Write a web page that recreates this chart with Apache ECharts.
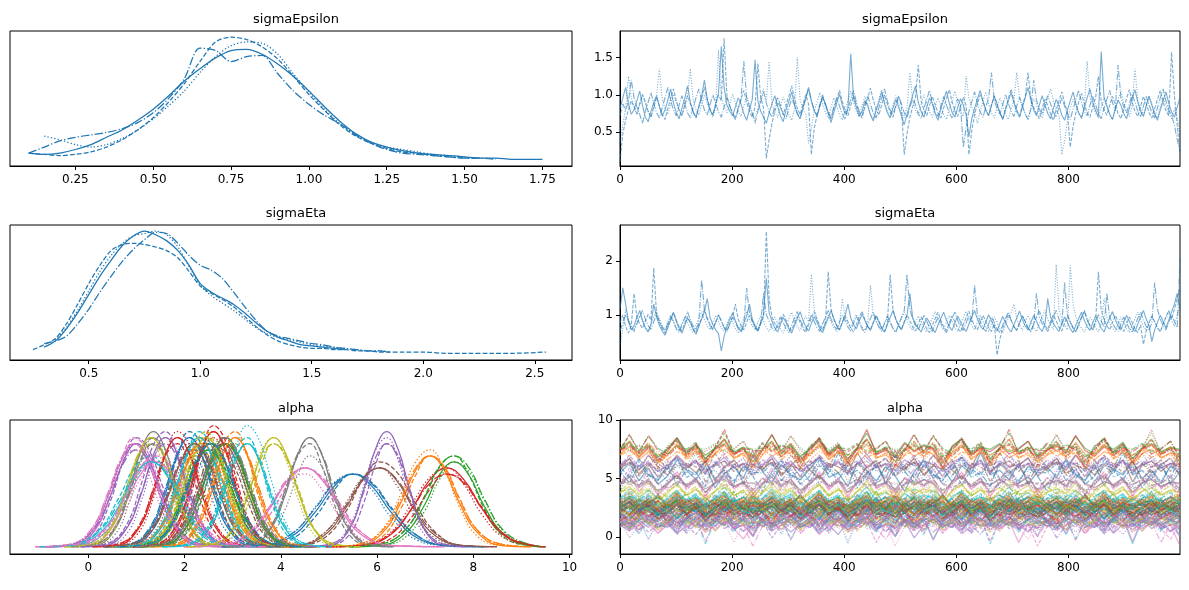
<!DOCTYPE html>
<html>
<head>
<meta charset="utf-8">
<script src="https://cdn.jsdelivr.net/npm/echarts@6/dist/echarts.min.js"></script>
<style>html,body{margin:0;padding:0;background:#fff}#c{width:1189px;height:590px}</style>
</head>
<body>
<div id="c"></div>
<script>
// ---------- titles / tick labels ----------
const TITLES = ['sigmaEpsilon','sigmaEpsilon','sigmaEta','sigmaEta','alpha','alpha'];
const TICKS_SIGE_KDE = [0.25,0.5,0.75,1.0,1.25,1.5,1.75];
const TICKS_SIGH_KDE = [0.5,1.0,1.5,2.0,2.5];
const TICKS_ALPHA_KDE = [0,2,4,6,8,10];
const TICKS_DRAW = [0,200,400,600,800];
const TICKS_SIGE_Y = [0.5,1.0,1.5];
const TICKS_SIGH_Y = [1,2];
const TICKS_ALPHA_Y = [0,5,10];

// ---------- sigmaEpsilon KDE (density, % of max) per chain ----------
const SIGE_X = [0.10,0.15,0.20,0.25,0.30,0.35,0.40,0.45,0.50,0.55,0.60,0.65,0.70,0.75,0.80,0.85,0.90,0.95,1.00,1.05,1.10,1.15,1.20,1.25,1.30,1.35,1.40,1.45,1.50,1.55,1.60,1.65,1.70,1.75];
const SIGE_K0 = [5,4,5,8,12,18,24,32,41,52,64,74,83,89,90,86,78,68,56,43,31,21,14,10,7,5,4,3,2,1,1,0,0,0];
const SIGE_K1 = [5,4,3,4,6,10,16,24,34,47,62,80,96,100,98,92,82,68,53,40,28,19,13,9,6,5,3,2,1,1,null,null,null,null];
const SIGE_K2 = [null,19,16,12,10,12,17,24,33,44,56,71,84,93,96,95,86,70,55,41,29,20,14,10,8,6,4,3,2,null,null,null,null,null];
const SIGE_K3 = [5,10,15,18,20,22,25,30,38,50,66,91,89,80,84,85,70,56,45,36,29,20,13,8,5,4,3,2,1,1,0,null,null,null];

// ---------- sigmaEta KDE ----------
const SIGH_X = [0.25,0.30,0.35,0.40,0.45,0.50,0.55,0.60,0.65,0.70,0.75,0.80,0.85,0.90,0.95,1.00,1.05,1.10,1.15,1.20,1.25,1.30,1.35,1.40,1.45,1.50,1.55,1.60,1.65,1.70,1.75,1.80,1.85,1.90,2.0,2.1,2.2,2.3,2.4,2.55];
const SIGH_K0 = [null,5,10,20,33,48,63,76,88,96,100,97,92,84,72,57,50,45,40,33,25,18,13,10,7,6,5,4,3,null,null,null,null,null,null,null,null,null,null,null];
const SIGH_K1 = [3,7,12,24,40,57,72,84,89,90,89,87,84,78,67,55,49,44,38,30,22,15,10,7,5,4,4,3,3,2,2,1,1,1,1,0,0,0,0,1];
const SIGH_K2 = [null,null,11,21,35,51,67,80,90,96,98,100,97,87,71,56,47,41,35,28,21,16,13,11,9,7,6,5,4,3,2,2,1,null,null,null,null,null,null,null];
const SIGH_K3 = [null,8,10,14,24,36,50,63,75,85,93,99,98,90,80,72,68,61,50,38,27,18,14,12,10,8,7,5,4,3,2,2,1,null,null,null,null,null,null,null];

// ---------- sigmaEpsilon trace (hundredths), 4 chains ----------
const SIGE_T0 = [82,96,110,88,74,80,92,105,86,70,64,78,90,99,84,72,80,93,108,89,76,68,82,95,112,90,78,70,85,98,120,94,80,73,88,102,165,110,86,78,72,84,96,88,75,66,80,94,147,92,78,70,62,76,88,99,85,72,64,80,91,104,87,74,68,82,95,110,92,79,71,85,97,88,76,63,77,89,101,86,74,82,155,96,83,71,78,92,86,73,65,79,90,104,88,76,69,82,94,84,72,60,74,87,99,112,90,78,70,84,96,88,75,66,81,93,105,89,77,70,83,95,86,73,44,68,82,94,106,91,79,72,86,98,88,76,67,80,92,103,89,77,70,84,96,110,93,80,72,86,99,87,75,68,82,94,85,73,66,80,92,104,88,76,69,83,96,108,91,79,71,158,97,85,74,67,81,93,86,75,68,82,95,107,90,78,71,85,98,86,74,66,80,92,104,89,77,70,84,96];
const SIGE_T1 = [10,48,66,80,92,84,75,88,101,90,78,70,84,97,86,74,67,82,95,108,92,80,72,86,99,88,76,69,83,96,110,94,81,73,87,100,92,176,98,84,76,69,82,94,106,90,78,70,84,142,96,83,15,40,62,78,90,84,73,86,98,112,95,82,74,87,100,88,20,55,72,85,97,86,75,68,82,94,106,91,79,72,86,99,87,76,69,83,95,109,93,81,73,87,100,88,77,70,84,97,86,20,48,70,84,96,140,92,80,72,86,98,87,76,69,82,95,107,91,79,71,85,97,86,20,52,74,88,100,92,80,73,86,99,87,76,68,82,95,108,92,80,72,86,98,130,95,83,75,68,82,94,86,74,66,80,92,104,89,77,30,58,76,90,102,88,76,70,84,96,125,92,80,73,86,98,87,75,68,82,95,107,90,78,71,85,98,88,76,69,82,94,106,90,79,72,157,100,60,22];
const SIGE_T2 = [35,60,82,125,96,84,73,87,100,90,78,70,84,98,135,94,82,74,88,101,90,79,72,86,99,135,92,80,73,87,100,89,77,70,84,160,96,84,76,88,101,90,78,71,85,98,87,76,68,82,95,108,92,145,88,77,70,84,97,86,74,66,80,150,94,82,74,35,55,78,90,103,88,76,69,83,96,85,73,66,80,92,105,90,78,71,85,98,87,75,68,82,95,107,91,79,72,86,99,88,76,69,83,130,92,80,73,87,100,89,77,70,84,96,85,74,67,81,93,105,90,78,71,125,96,84,76,62,78,92,104,88,76,69,83,96,86,74,67,81,93,130,95,83,75,68,82,95,87,76,69,83,96,108,92,80,73,20,38,65,82,94,86,75,68,82,145,97,85,76,69,83,96,86,74,67,81,93,105,89,78,71,85,135,93,81,73,86,99,88,76,69,83,96,86,75,68,82,70,45];
const SIGE_T3 = [72,88,79,92,120,96,84,74,62,78,90,103,88,76,69,83,96,110,92,80,72,86,99,88,76,69,83,96,108,92,80,73,87,100,89,77,70,84,97,86,74,67,81,94,145,96,84,75,62,78,91,104,89,77,70,84,97,86,75,68,82,95,87,76,69,83,96,108,92,80,73,87,100,88,77,70,84,96,85,74,67,81,94,106,90,78,72,86,99,87,76,69,83,96,108,92,80,73,86,99,88,76,69,83,95,87,75,68,82,94,106,90,78,71,85,98,87,76,69,83,95,86,30,56,78,91,104,89,77,70,84,96,130,93,81,74,87,100,89,78,71,85,97,86,74,67,81,120,93,81,74,87,99,88,77,70,84,96,85,74,67,81,94,106,90,78,72,86,98,87,75,68,82,94,106,90,79,140,96,84,76,88,101,90,78,71,85,98,87,76,69,83,96,108,92,80,73,60,40,25];

// ---------- sigmaEta trace (hundredths), 4 chains ----------
const SIGH_T0 = [110,150,120,88,72,80,95,108,90,76,68,82,120,96,80,70,62,76,90,104,88,75,66,80,94,86,73,64,78,92,106,130,95,82,72,65,33,60,78,92,104,89,77,70,84,98,120,92,80,72,86,100,168,104,88,76,68,82,95,86,74,66,80,93,106,90,78,70,84,97,86,74,67,81,94,108,92,80,72,86,99,120,94,82,74,88,101,90,78,71,85,98,87,75,68,82,95,108,92,80,72,86,99,140,95,83,75,68,82,94,86,74,67,81,93,105,90,78,71,85,98,87,76,69,83,96,108,92,80,73,87,100,89,77,70,84,97,86,75,68,82,94,107,91,79,72,86,99,88,76,69,83,130,96,84,76,69,83,96,86,74,67,81,93,105,90,78,71,85,98,87,75,68,82,94,106,91,79,72,86,99,88,76,69,83,96,108,92,80,50,72,86,99,88,76,90,105,120,140,110];
const SIGH_T1 = [85,100,78,66,80,140,95,83,75,88,101,90,187,100,86,74,66,80,93,105,90,78,70,84,97,86,74,67,81,93,110,94,82,74,87,100,89,77,70,84,96,120,92,80,72,86,99,88,76,69,83,96,255,130,96,84,76,88,101,90,78,71,85,97,86,74,67,81,94,106,91,79,72,86,180,110,92,80,72,86,98,87,75,68,82,95,107,91,79,72,86,99,88,76,69,83,175,110,92,80,73,87,100,89,77,70,84,96,85,74,67,81,93,105,90,78,71,85,98,87,75,68,82,95,107,91,79,72,86,99,88,76,69,83,25,55,75,88,101,90,78,71,85,98,87,76,69,83,96,108,92,80,73,87,100,89,77,70,84,97,86,75,68,82,94,106,91,79,72,86,180,110,92,80,72,86,99,88,76,69,83,96,86,74,67,81,45,70,85,98,87,76,69,83,96,108,92,110,130,145];
const SIGH_T2 = [40,75,110,92,80,72,86,99,88,76,69,83,96,108,92,80,73,87,100,89,77,70,84,97,86,74,67,81,93,106,91,79,72,86,99,88,76,69,83,96,86,74,67,81,94,107,91,79,72,86,99,88,76,69,83,96,85,74,66,80,93,105,90,78,71,85,98,87,175,110,92,80,72,86,99,88,76,69,83,130,96,84,76,88,101,90,78,71,85,155,100,88,76,69,83,96,86,74,67,81,93,105,90,78,71,85,98,87,75,68,82,94,106,91,79,72,86,99,88,76,69,83,95,107,91,79,72,86,99,88,76,69,83,96,86,74,67,81,93,105,120,92,80,72,86,99,88,76,69,83,96,108,92,80,73,193,110,92,80,72,192,120,95,83,75,68,82,95,87,76,69,83,130,96,84,76,69,83,96,86,74,67,81,93,105,90,78,71,85,98,87,75,68,82,94,106,91,79,100,120];
const SIGH_T3 = [70,85,100,88,76,69,83,96,108,92,80,73,87,100,89,77,70,84,97,86,74,67,81,93,106,91,79,72,86,165,110,92,80,72,86,99,88,76,69,83,96,86,74,67,81,150,104,89,77,70,84,140,100,88,76,69,83,96,86,74,67,81,94,106,91,79,72,86,99,88,76,69,83,96,108,92,80,73,87,100,89,77,70,84,97,86,74,67,81,93,105,90,78,71,85,98,87,75,68,82,95,107,175,110,92,80,72,86,99,88,76,69,83,96,86,74,67,81,93,105,90,78,71,85,98,87,155,100,88,76,69,83,96,86,74,67,81,93,105,90,78,71,85,98,87,75,68,82,140,96,84,76,69,83,96,108,92,80,160,100,88,76,69,83,96,108,92,80,73,87,100,89,77,140,96,84,76,69,83,96,86,74,67,81,93,105,90,78,71,85,160,110,92,80,72,86,99,88,76,205];

// ---------- alpha KDE: x grid per parameter, density (% of max) per chain, tail ends ----------
const ALPHA_KDE_X = [
[0.84,1.26,1.60,1.85,2.10,2.35,2.60,2.94,3.36],
[1.00,1.45,1.81,2.08,2.35,2.62,2.89,3.25,3.70],
[1.15,1.60,1.96,2.23,2.50,2.77,3.04,3.40,3.85],
[0.59,1.01,1.35,1.60,1.85,2.10,2.35,2.69,3.11],
[-0.35,0.10,0.46,0.73,1.00,1.27,1.54,1.90,2.35],
[1.45,1.90,2.26,2.53,2.80,3.07,3.34,3.70,4.15],
[-0.40,0.05,0.41,0.68,0.95,1.22,1.49,1.85,2.30],
[0.12,0.53,0.86,1.10,1.35,1.60,1.84,2.17,2.58],
[0.01,0.44,0.78,1.04,1.30,1.56,1.82,2.16,2.59],
[-0.35,0.20,0.64,0.97,1.30,1.63,1.96,2.40,2.95],
[3.55,4.20,4.72,5.11,5.50,5.89,6.28,6.80,7.45],
[1.79,2.21,2.55,2.80,3.05,3.30,3.55,3.89,4.31],
[1.56,1.99,2.33,2.59,2.85,3.11,3.37,3.71,4.14],
[1.40,1.80,2.12,2.36,2.60,2.84,3.08,3.40,3.80],
[0.34,0.76,1.10,1.35,1.60,1.85,2.10,2.44,2.86],
[4.31,4.89,5.35,5.70,6.05,6.40,6.75,7.21,7.79],
[-0.25,0.30,0.74,1.07,1.40,1.73,2.06,2.50,3.05],
[1.50,1.95,2.31,2.58,2.85,3.12,3.39,3.75,4.20],
[1.19,1.61,1.95,2.20,2.45,2.70,2.95,3.29,3.71],
[1.04,1.46,1.80,2.05,2.30,2.55,2.80,3.14,3.56],
[1.20,1.65,2.01,2.28,2.55,2.82,3.09,3.45,3.90],
[5.60,6.10,6.50,6.80,7.10,7.40,7.70,8.10,8.60],
[6.04,6.56,6.98,7.29,7.60,7.91,8.22,8.64,9.16],
[5.65,6.25,6.73,7.09,7.45,7.81,8.17,8.65,9.25],
[5.00,5.40,5.72,5.96,6.20,6.44,6.68,7.00,7.40],
[0.85,1.30,1.66,1.93,2.20,2.47,2.74,3.10,3.55],
[2.70,3.30,3.78,4.14,4.50,4.86,5.22,5.70,6.30],
[3.34,3.76,4.10,4.35,4.60,4.85,5.10,5.44,5.86],
[2.56,2.99,3.33,3.59,3.85,4.11,4.37,4.71,5.14],
[2.04,2.46,2.80,3.05,3.30,3.55,3.80,4.14,4.56]
];
const ALPHA_KDE_LO = [0.34,0.46,0.61,0.09,-0.89,0.91,-1.1,-0.37,-0.51,-1.01,2.77,1.29,1.04,0.92,-0.16,3.61,-0.91,0.96,0.69,0.54,0.66,5.0,5.42,4.93,4.52,0.31,1.98,2.84,2.04,1.54];
const ALPHA_KDE_HI = [3.86,4.24,4.39,3.61,2.89,4.69,2.84,3.07,3.11,3.61,8.23,4.81,4.66,4.28,3.36,8.49,3.71,4.74,4.21,4.06,4.44,9.2,9.5,9.5,7.88,4.09,7.4,6.36,5.66,5.06];
const ALPHA_KDE_Y = [
[[1,13,44,76,90,76,44,13,1],[1,10,40,75,95,84,52,16,2],[2,14,47,75,85,67,36,9,1],[2,15,48,77,90,77,48,15,2]],
[[1,12,42,71,85,71,42,12,1],[2,14,44,70,80,63,34,8,1],[1,9,38,71,90,79,50,15,2],[2,14,45,73,85,73,45,14,2]],
[[1,11,39,67,80,67,39,11,1],[1,9,36,67,85,75,47,14,2],[2,14,47,75,85,67,36,9,1],[2,14,42,69,80,69,42,14,2]],
[[1,13,44,76,90,76,44,13,1],[2,14,47,75,85,67,36,9,1],[1,10,40,75,95,84,52,16,2],[2,15,48,77,90,77,48,15,2]],
[[1,12,42,71,85,71,42,12,1],[1,9,38,71,90,79,50,15,2],[2,14,47,75,85,67,36,9,1],[2,14,42,69,80,69,42,14,2]],
[[1,12,42,71,85,71,42,12,1],[2,14,44,70,80,63,34,8,1],[1,9,36,67,85,75,47,14,2],[2,15,48,77,90,77,48,15,2]],
[[1,12,42,71,85,71,42,12,1],[1,9,38,71,90,79,50,15,2],[2,14,44,70,80,63,34,8,1],[2,14,45,73,85,73,45,14,2]],
[[1,13,47,80,95,80,47,13,1],[2,15,50,79,90,71,38,9,1],[1,9,38,71,90,79,50,15,2],[2,14,45,73,85,73,45,14,2]],
[[1,13,44,76,90,76,44,13,1],[1,9,36,67,85,75,47,14,2],[2,14,47,75,85,67,36,9,1],[2,15,48,77,90,77,48,15,2]],
[[1,10,34,59,70,59,34,10,1],[2,13,41,66,75,59,32,8,1],[1,7,29,55,70,62,39,12,1],[1,12,37,60,70,60,37,12,1]],
[[1,8,29,50,60,50,29,8,1],[1,6,25,47,60,53,33,10,1],[1,10,33,53,60,47,25,6,1],[1,10,32,52,60,52,32,10,1]],
[[1,13,44,76,90,76,44,13,1],[2,16,52,84,95,75,40,10,1],[1,9,36,67,85,75,47,14,2],[2,15,48,77,90,77,48,15,2]],
[[1,13,44,76,90,76,44,13,1],[1,9,36,67,85,75,47,14,2],[2,15,50,79,90,71,38,9,1],[2,14,45,73,85,73,45,14,2]],
[[1,13,47,80,95,80,47,13,1],[1,10,42,79,100,88,55,17,2],[2,15,50,79,90,71,38,9,1],[2,16,50,82,95,82,50,16,2]],
[[1,13,44,76,90,76,44,13,1],[2,16,52,84,95,75,40,10,1],[1,9,38,71,90,79,50,15,2],[2,14,45,73,85,73,45,14,2]],
[[1,9,32,55,65,55,32,9,1],[1,7,29,55,70,62,39,12,1],[1,11,36,57,65,51,27,7,1],[1,11,34,56,65,56,34,11,1]],
[[1,10,34,59,70,59,34,10,1],[1,12,39,62,70,55,29,7,1],[1,7,29,55,70,62,39,12,1],[2,13,40,65,75,65,40,13,2]],
[[1,12,42,71,85,71,42,12,1],[1,9,36,67,85,75,47,14,2],[2,14,44,70,80,63,34,8,1],[2,15,48,77,90,77,48,15,2]],
[[1,13,44,76,90,76,44,13,1],[2,16,52,84,95,75,40,10,1],[1,9,38,71,90,79,50,15,2],[2,15,48,77,90,77,48,15,2]],
[[1,13,44,76,90,76,44,13,1],[1,10,40,75,95,84,52,16,2],[2,14,47,75,85,67,36,9,1],[2,15,48,77,90,77,48,15,2]],
[[1,12,42,71,85,71,42,12,1],[2,14,47,75,85,67,36,9,1],[1,8,34,63,80,70,44,14,2],[2,14,45,73,85,73,45,14,2]],
[[1,11,37,63,75,63,37,11,1],[1,8,32,59,75,66,41,13,2],[2,14,44,70,80,63,34,8,1],[2,13,40,65,75,65,40,13,2]],
[[1,10,34,59,70,59,34,10,1],[2,13,41,66,75,59,32,8,1],[1,7,29,55,70,62,39,12,1],[2,13,40,65,75,65,40,13,2]],
[[1,9,32,55,65,55,32,9,1],[1,6,25,47,60,53,33,10,1],[1,11,36,57,65,51,27,7,1],[1,10,32,52,60,52,32,10,1]],
[[1,13,47,80,95,80,47,13,1],[1,9,36,67,85,75,47,14,2],[2,15,50,79,90,71,38,9,1],[2,14,45,73,85,73,45,14,2]],
[[1,12,42,71,85,71,42,12,1],[2,14,44,70,80,63,34,8,1],[1,9,36,67,85,75,47,14,2],[2,14,45,73,85,73,45,14,2]],
[[1,9,32,55,65,55,32,9,1],[1,7,27,51,65,57,36,11,1],[1,10,33,53,60,47,25,6,1],[1,11,34,56,65,56,34,11,1]],
[[1,13,44,76,90,76,44,13,1],[2,14,47,75,85,67,36,9,1],[1,8,32,59,75,66,41,13,2],[2,15,48,77,90,77,48,15,2]],
[[1,13,44,76,90,76,44,13,1],[1,9,36,67,85,75,47,14,2],[2,15,50,79,90,71,38,9,1],[2,14,45,73,85,73,45,14,2]],
[[1,12,42,71,85,71,42,12,1],[2,15,50,79,90,71,38,9,1],[1,10,42,79,100,88,55,17,2],[2,14,45,73,85,73,45,14,2]]
];

// ---------- alpha trace samples per parameter (tenths) ----------
const ALPHA_TRACE = [
[21,26,17,23,15,20,28,19,24,13,22,27,18,25,30,20,16,23,29,19,21,14,26,22,18,24,31,20,17,25,12,23,20,27,19,22,16,28,21,24,19,25,17,22,29,20,15,23,26,18,21,27,16,24,20,13,22,28,19,23],
[24,19,28,22,31,25,17,23,29,21,15,26,24,32,20,27,18,25,22,30,23,16,28,24,20,26,33,21,19,27,23,14,25,29,22,18,26,24,30,21,27,20,23,31,19,25,28,17,22,26,30,21,24,18,27,23,15,25,20,28],
[25,30,22,27,19,24,32,26,21,28,16,25,29,23,34,20,26,28,18,24,27,31,22,25,17,29,24,33,21,26,23,28,19,25,30,22,27,15,26,24,29,21,27,23,32,25,19,28,24,20,26,31,22,27,18,25,30,23,26,21],
[19,14,23,17,26,18,12,20,24,16,19,28,15,21,17,25,10,19,22,16,20,27,18,13,23,19,15,26,20,17,21,11,24,18,22,16,29,19,14,21,18,23,16,20,25,14,19,22,17,24,12,20,18,26,15,21,19,23,17,20],
[10,5,14,8,17,11,3,9,13,6,12,19,7,10,1,15,9,12,4,11,8,16,10,2,13,9,18,6,11,7,14,-1,10,15,8,12,5,17,9,11,7,13,10,4,15,9,12,6,18,10,8,14,3,11,9,16,7,12,5,10],
[28,33,24,30,21,27,35,29,23,31,19,28,32,25,37,26,30,22,29,34,27,20,31,28,24,36,26,30,23,29,33,18,27,31,25,28,38,24,30,26,32,23,29,35,27,21,30,25,33,28,24,31,19,27,34,26,29,22,30,28],
[9,14,6,11,3,10,17,8,12,4,9,15,7,-2,11,13,5,10,19,8,12,2,10,14,6,9,16,7,11,0,13,8,10,18,5,12,9,4,15,10,7,13,-5,11,8,16,6,10,14,3,12,9,17,7,11,5,13,8,10,-8],
[14,9,17,12,20,13,7,15,18,11,14,22,10,16,5,13,19,12,15,8,14,21,11,16,6,13,17,10,15,23,12,8,14,18,11,16,9,13,20,14,12,17,10,15,19,13,7,16,12,14,21,11,15,9,18,13,10,16,14,12],
[13,18,9,15,6,12,20,14,10,17,5,13,16,11,22,8,14,19,12,7,15,10,18,13,4,16,11,21,12,9,15,13,6,17,10,14,23,11,15,12,16,9,14,19,11,13,7,17,12,15,10,20,13,8,16,12,14,18,10,13],
[13,6,19,10,22,14,3,16,20,9,12,25,7,15,0,18,11,14,23,8,13,19,5,16,10,26,12,4,17,11,21,8,15,-2,13,19,10,16,24,12,9,17,6,14,21,11,15,2,18,13,8,20,12,16,-6,14,10,22,13,11],
[55,63,48,59,45,52,66,57,49,61,42,54,60,50,70,56,46,62,53,49,58,68,51,55,43,64,57,48,60,52,39,56,65,50,59,47,61,54,72,53,57,49,63,45,56,60,51,67,54,48,62,44,58,53,65,50,57,46,61,55],
[30,35,26,32,23,31,38,29,33,25,30,36,27,34,21,31,39,28,32,24,30,37,29,33,22,31,35,26,30,41,28,32,25,34,30,27,36,20,31,33,29,34,26,31,37,28,24,32,30,35,27,33,23,30,36,29,31,26,34,30],
[29,24,33,27,36,28,22,30,34,25,29,38,26,31,20,28,35,27,32,23,29,37,26,30,21,33,28,39,25,30,27,34,24,29,36,26,31,19,28,32,27,33,25,30,35,28,23,31,29,34,26,30,37,24,28,32,27,31,22,29],
[26,31,22,28,20,25,33,27,23,29,18,26,30,24,35,22,27,32,25,20,28,24,31,26,17,29,25,34,23,27,21,26,30,24,36,25,28,22,29,26,24,30,23,27,32,25,19,28,26,31,22,27,33,24,26,29,21,28,25,27],
[16,11,20,14,23,17,9,15,21,13,16,25,12,18,7,15,22,14,19,10,16,24,13,17,8,15,20,12,18,26,14,11,17,21,13,19,6,16,22,15,18,12,16,20,14,9,17,23,15,13,19,11,16,21,14,17,10,18,15,16],
[60,67,54,63,51,59,70,62,55,65,48,60,66,56,74,58,64,52,61,69,57,50,63,60,54,72,59,65,46,62,57,68,53,61,58,66,49,60,75,56,63,55,61,68,52,59,64,57,70,60,53,62,58,66,47,61,65,56,63,60],
[14,7,20,11,23,15,4,17,21,10,13,26,8,16,1,19,12,15,24,9,14,20,6,17,11,27,13,5,18,12,22,9,16,-3,14,20,11,17,25,13,10,18,7,15,22,12,16,3,19,14,9,21,13,17,-4,15,11,23,14,12],
[28,33,24,30,21,29,36,27,32,23,28,35,25,31,19,29,37,26,30,22,28,34,27,32,20,30,39,25,29,23,31,26,35,28,24,33,18,29,31,27,30,25,28,34,23,29,32,26,36,28,22,30,27,33,25,29,31,24,28,30],
[24,29,20,26,18,25,32,23,28,19,24,30,21,27,16,25,33,22,26,19,24,31,23,27,17,25,29,21,26,34,23,20,28,24,15,26,30,22,27,25,23,28,20,25,31,22,18,26,24,29,21,27,32,23,25,20,28,24,26,23],
[23,18,27,21,30,24,16,22,28,19,23,32,20,25,14,22,29,21,26,17,23,31,20,24,15,26,22,33,19,24,21,27,18,23,30,20,25,13,22,26,24,19,28,22,17,25,21,29,23,20,26,15,24,22,27,19,23,31,21,24],
[25,30,21,27,18,26,33,24,29,20,25,32,22,28,16,26,34,23,27,19,25,31,24,28,17,26,35,22,25,20,29,23,30,26,21,28,15,25,27,24,28,22,26,31,20,25,29,23,33,26,21,27,24,30,18,25,28,23,26,24],
[71,77,66,73,63,70,80,68,74,65,71,79,67,72,59,70,82,69,75,64,71,78,66,73,61,72,84,68,70,65,76,69,74,71,58,73,79,67,72,70,75,68,72,77,64,70,74,69,81,71,66,73,70,76,62,71,75,68,72,70],
[76,82,71,78,68,75,85,73,79,70,76,84,72,77,64,75,87,74,80,69,76,83,71,78,66,77,89,73,75,70,81,74,79,76,63,78,84,72,77,75,80,73,76,82,69,75,79,74,86,76,71,78,75,81,67,76,80,73,77,75],
[74,81,68,77,65,73,85,71,79,67,75,83,70,76,61,74,88,72,79,66,75,82,69,77,63,76,92,71,74,68,80,73,78,75,59,77,84,70,76,73,79,71,75,82,67,74,78,72,87,74,69,77,73,80,64,75,79,71,76,74],
[62,67,58,64,56,61,69,60,65,57,62,68,59,63,53,61,70,60,65,56,62,68,59,64,54,63,71,60,62,57,66,61,65,62,52,64,68,59,63,61,65,60,62,67,57,61,64,60,70,62,58,63,61,66,55,62,65,59,63,62],
[22,27,18,24,15,21,29,20,26,17,22,28,19,25,12,23,30,20,24,16,22,29,19,25,13,23,32,19,21,17,26,20,27,22,14,25,28,18,23,21,24,19,22,27,16,21,25,20,30,22,18,24,21,26,14,22,25,19,23,21],
[45,52,39,48,36,44,56,42,50,38,46,54,41,47,32,45,59,43,50,37,46,53,40,48,34,47,62,42,45,39,51,44,49,46,30,48,55,41,47,44,50,42,46,53,38,45,49,43,58,45,40,48,44,51,35,46,50,42,47,45],
[46,51,42,48,39,45,53,44,49,41,46,52,43,47,37,45,54,44,49,40,46,52,43,48,38,47,55,44,46,41,50,45,49,46,36,48,52,43,47,45,49,44,46,51,40,45,48,44,53,46,42,47,45,50,38,46,49,43,47,46],
[38,43,34,40,31,37,46,36,41,33,39,45,35,40,29,38,47,36,42,32,39,44,35,41,30,39,48,36,38,33,43,37,41,39,28,40,45,35,40,38,42,36,39,44,33,38,41,37,46,39,34,40,38,43,31,39,42,36,40,38],
[33,38,29,35,26,32,40,31,36,28,33,39,30,34,24,33,41,31,37,27,33,39,30,35,25,34,43,31,33,28,37,32,36,33,23,35,39,30,34,32,36,31,33,38,27,32,35,31,40,33,29,34,32,37,26,33,36,30,34,33]
];

// ---------- styling ----------
const COLORS = ['#1f77b4','#ff7f0e','#2ca02c','#d62728','#9467bd','#8c564b','#e377c2','#7f7f7f','#bcbd22','#17becf'];
const FONT = 'DejaVu Sans';
const KDE_DASH = ['solid',[4.8,2.1],[1.3,2.1],[8.3,2.1,1.3,2.1]];
const TR_DASH = ['solid',[3.7,1.6],[1,1.65],[6.4,1.6,1,1.6]];

const L = {left:10, width:562};
const R = {left:620, width:560};
const ROWS = [{top:31,height:135},{top:225,height:135},{top:420,height:134}];

const grids = [];
ROWS.forEach(r => {
  grids.push({left:L.left, width:L.width, top:r.top, height:r.height, show:true, borderColor:'#000', borderWidth:1, containLabel:false});
  grids.push({left:R.left, width:R.width, top:r.top, height:r.height, show:true, borderColor:'#000', borderWidth:1, containLabel:false});
});

function xAx(g, min, max, ticks, fmt) {
  return {type:'value', gridIndex:g, min:min, max:max,
    axisLine:{show:true, onZero:false, lineStyle:{color:'#000', width:1}},
    axisTick:{show:true, length:4, lineStyle:{color:'#000', width:1}, customValues:ticks},
    axisLabel:{show:true, customValues:ticks, formatter:fmt, color:'#000', fontSize:12, fontFamily:FONT, margin:8},
    splitLine:{show:false}};
}
function yAxHidden(g, min, max) {
  return {type:'value', gridIndex:g, min:min, max:max, show:false, splitLine:{show:false}};
}
function yAx(g, min, max, ticks, fmt) {
  return {type:'value', gridIndex:g, min:min, max:max,
    axisLine:{show:true, onZero:false, lineStyle:{color:'#000', width:1}},
    axisTick:{show:true, length:4, lineStyle:{color:'#000', width:1}, customValues:ticks},
    axisLabel:{show:true, customValues:ticks, formatter:fmt, color:'#000', fontSize:12, fontFamily:FONT, margin:7},
    splitLine:{show:false}};
}
const f2 = v => Number(v).toFixed(2);
const f1 = v => Number(v).toFixed(1);
const f0 = v => String(Math.round(v));

const xAxes = [
  xAx(0, 0.04, 1.845, TICKS_SIGE_KDE, f2),
  xAx(1, 0, 999, TICKS_DRAW, f0),
  xAx(2, 0.147, 2.667, TICKS_SIGH_KDE, f1),
  xAx(3, 0, 999, TICKS_DRAW, f0),
  xAx(4, -1.63, 10.05, TICKS_ALPHA_KDE, f0),
  xAx(5, 0, 999, TICKS_DRAW, f0)
];
const yAxes = [
  yAxHidden(0, -5.5, 105),
  yAx(1, 0.047, 1.856, TICKS_SIGE_Y, f1),
  yAxHidden(2, -5.5, 105),
  yAx(3, 0.16, 2.67, TICKS_SIGH_Y, f0),
  yAxHidden(4, -6, 104.6),
  yAx(5, -1.48, 10.02, TICKS_ALPHA_Y, f0)
];

const series = [];
function kdePairs(xs, ys) { return xs.map((x,i)=>[x, ys[i]]); }
function kde(g, data, color, chain, smooth) {
  series.push({type:'line', xAxisIndex:g, yAxisIndex:g, data:data,
    symbol:'none', smooth:smooth, silent:true, animation:false,
    lineStyle:{color:color, width:1.25, type:KDE_DASH[chain]}});
}
function trace(g, ys, scale, color, chain, op, w) {
  const n = ys.length;
  series.push({type:'line', xAxisIndex:g, yAxisIndex:g, data:ys.map((y,i)=>[i*999/(n-1), y/scale]),
    symbol:'none', silent:true, animation:false,
    lineStyle:{color:color, width:w, opacity:op, type:TR_DASH[chain]}});
}

[SIGE_K0,SIGE_K1,SIGE_K2,SIGE_K3].forEach((k,c)=>kde(0, kdePairs(SIGE_X, k), COLORS[0], c, 0.3));
[SIGE_T0,SIGE_T1,SIGE_T2,SIGE_T3].forEach((t,c)=>trace(1, t, 100, COLORS[0], c, 0.6, 1.1));
[SIGH_K0,SIGH_K1,SIGH_K2,SIGH_K3].forEach((k,c)=>kde(2, kdePairs(SIGH_X, k), COLORS[0], c, 0.3));
[SIGH_T0,SIGH_T1,SIGH_T2,SIGH_T3].forEach((t,c)=>trace(3, t, 100, COLORS[0], c, 0.6, 1.1));

for (let c = 0; c < 4; c++) {
  ALPHA_KDE_X.forEach((xs,p)=>{
    const d = [[ALPHA_KDE_LO[p], 0]].concat(kdePairs(xs, ALPHA_KDE_Y[p][c]), [[ALPHA_KDE_HI[p], 0]]);
    kde(4, d, COLORS[p % 10], c, 0.45);
  });
}
for (let c = 0; c < 4; c++) {
  ALPHA_TRACE.forEach((vals,p)=>{
    const n = vals.length, off = c * Math.floor(n/4);
    const chainVals = vals.map((v,j)=>vals[(j + off) % n]);
    trace(5, chainVals, 10, COLORS[p % 10], c, 0.55, 1.3);
  });
}

const titleX = [L.left + L.width/2, R.left + R.width/2];
const titles = TITLES.map((t,i)=>({
  text:t, left:titleX[i % 2], top:ROWS[Math.floor(i/2)].top - 23, textAlign:'center',
  textStyle:{fontSize:13, fontWeight:'normal', color:'#000', fontFamily:FONT}
}));

const chart = echarts.init(document.getElementById('c'), null, {renderer:'canvas'});
chart.setOption({
  animation:false,
  backgroundColor:'#fff',
  title:titles,
  grid:grids,
  xAxis:xAxes,
  yAxis:yAxes,
  series:series
});
</script>
</body>
</html>
